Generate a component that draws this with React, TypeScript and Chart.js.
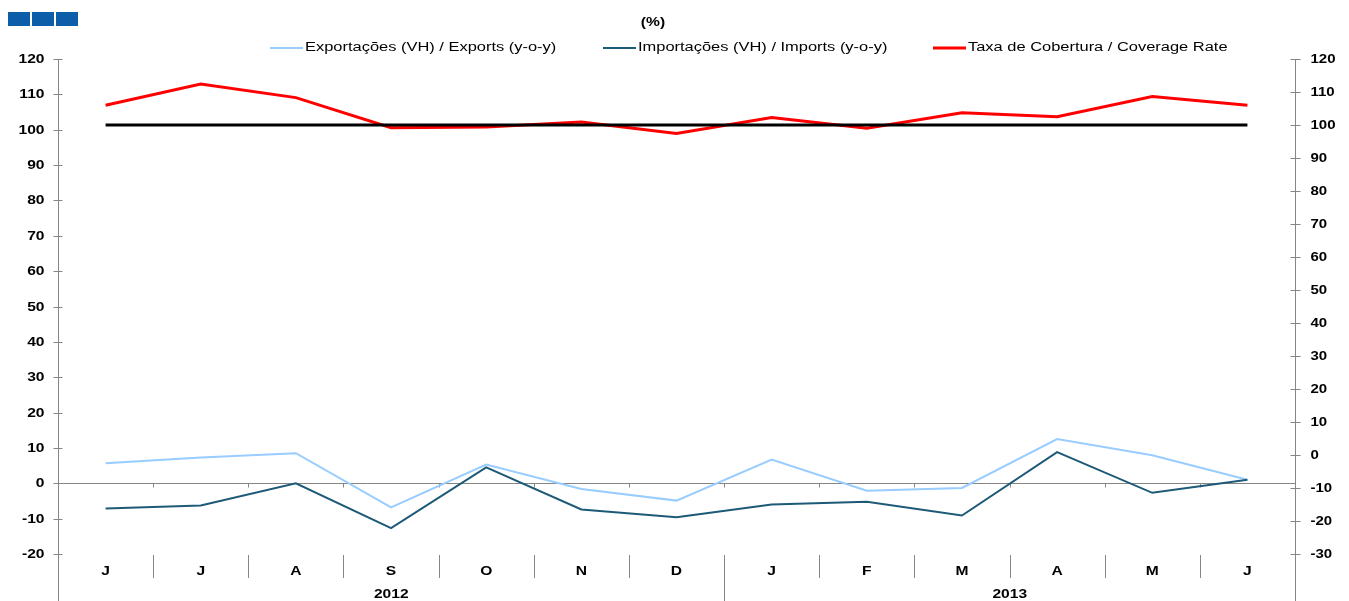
import React, { useEffect, useRef } from "react";
import { Chart, registerables } from "chart.js";

Chart.register(...registerables);

// ---- Data ----
const months = ["J", "J", "A", "S", "O", "N", "D", "J", "F", "M", "A", "M", "J"];
const years = ["2012", "2013"];
const monthsPerYear = [7, 6];
const exportsYoY = [5.7, 7.3, 8.5, -6.8, 5.3, -1.6, -4.9, 6.7, -2.1, -1.3, 12.5, 7.9, 1.0];
const importsYoY = [-7.1, -6.3, 0.0, -12.7, 4.5, -7.4, -9.6, -6.0, -5.2, -9.1, 8.8, -2.7, 1.0];
const coverageRate = [106.0, 112.4, 108.3, 99.2, 99.4, 100.9, 97.4, 102.3, 99.0, 103.7, 102.5, 108.6, 106.0];
const reference100 = [100, 100, 100, 100, 100, 100, 100, 100, 100, 100, 100, 100, 100];
const leftTicks = [-20, -10, 0, 10, 20, 30, 40, 50, 60, 70, 80, 90, 100, 110, 120];
const rightTicks = [-30, -20, -10, 0, 10, 20, 30, 40, 50, 60, 70, 80, 90, 100, 110, 120];
const seriesLabels = [
  "Exportações (VH) / Exports (y-o-y)",
  "Importações (VH) / Imports (y-o-y)",
  "Taxa de Cobertura / Coverage Rate",
];
const titleText = "(%)";

// ---- Styles ----
const FONT = "'Liberation Sans', Arial, sans-serif";
const AXIS = "#868686";
const COLORS = ["#99CCFF", "#1D5A78", "#FF0000", "#000000"];

function drawText(
  ctx: CanvasRenderingContext2D,
  text: string,
  x: number,
  y: number,
  font: string,
  align: CanvasTextAlign,
  sx: number
) {
  ctx.save();
  ctx.font = font;
  ctx.fillStyle = "#000";
  ctx.textAlign = align;
  ctx.textBaseline = "middle";
  ctx.translate(x, y);
  ctx.scale(sx, 1);
  ctx.fillText(text, 0, 0);
  ctx.restore();
}

const decorPlugin = {
  id: "decor",
  beforeDatasetsDraw(chart: any) {
    const ctx: CanvasRenderingContext2D = chart.ctx;
    const { left, right, top } = chart.chartArea;
    const yL = chart.scales.yL;
    const yR = chart.scales.yR;
    const xS = chart.scales.x;
    const H = chart.height;
    ctx.save();
    ctx.strokeStyle = AXIS;
    ctx.lineWidth = 1;
    const lx = Math.round(left) + 0.5;
    const rx = Math.round(right) + 0.5;
    // axis lines
    ctx.beginPath();
    ctx.moveTo(lx, top);
    ctx.lineTo(lx, H);
    ctx.moveTo(rx, top);
    ctx.lineTo(rx, H);
    ctx.stroke();
    // left ticks
    const tickFont = `bold 12px ${FONT}`;
    leftTicks.forEach((v) => {
      const py = Math.round(yL.getPixelForValue(v)) + 0.5;
      ctx.beginPath();
      ctx.moveTo(lx - 5, py);
      ctx.lineTo(lx + 4, py);
      ctx.stroke();
      drawText(ctx, String(v), lx - 14, py, tickFont, "right", 1.3);
    });
    rightTicks.forEach((v) => {
      const py = Math.round(yR.getPixelForValue(v)) + 0.5;
      ctx.beginPath();
      ctx.moveTo(rx - 5, py);
      ctx.lineTo(rx + 5, py);
      ctx.stroke();
      drawText(ctx, String(v), rx + 15, py, tickFont, "left", 1.25);
    });
    // zero line
    const zy = Math.round(yL.getPixelForValue(0)) + 0.5;
    ctx.beginPath();
    ctx.moveTo(lx, zy);
    ctx.lineTo(rx, zy);
    ctx.stroke();
    // boundaries
    const n = months.length;
    const bnd: number[] = [];
    for (let i = 1; i < n; i++) {
      bnd.push(Math.round((xS.getPixelForValue(i - 1) + xS.getPixelForValue(i)) / 2) + 0.5);
    }
    const yearBoundaryIdx = monthsPerYear[0] - 1;
    bnd.forEach((bx, i) => {
      ctx.beginPath();
      ctx.moveTo(bx, zy);
      ctx.lineTo(bx, zy + 4);
      ctx.moveTo(bx, 555);
      ctx.lineTo(bx, i === yearBoundaryIdx ? H : 578);
      ctx.stroke();
    });
    ctx.restore();
    // month labels
    months.forEach((m, i) => {
      drawText(ctx, m, xS.getPixelForValue(i), 572, `bold 12px ${FONT}`, "center", 1.3);
    });
    // year labels
    let start = 0;
    const edges = [left, ...bnd, right];
    years.forEach((yr, k) => {
      const end = start + monthsPerYear[k];
      const cx = (edges[start] + edges[end]) / 2;
      drawText(ctx, yr, cx, 595, `bold 12px ${FONT}`, "center", 1.3);
      start = end;
    });
  },
  afterDraw(chart: any) {
    const ctx: CanvasRenderingContext2D = chart.ctx;
    // logo squares
    ctx.save();
    ctx.fillStyle = "#0D5EA8";
    ctx.fillRect(8, 12, 22, 14);
    ctx.fillRect(32, 12, 22, 14);
    ctx.fillRect(56, 12, 22, 14);
    ctx.restore();
    // title
    drawText(ctx, titleText, 653, 23, `bold 12px ${FONT}`, "center", 1.3);
    // legend
    const legendX = [270, 603, 933];
    const widths = [2, 2, 3];
    seriesLabels.forEach((lab, i) => {
      ctx.save();
      ctx.strokeStyle = COLORS[i];
      ctx.lineWidth = widths[i];
      ctx.beginPath();
      ctx.moveTo(legendX[i], 48);
      ctx.lineTo(legendX[i] + 33, 48);
      ctx.stroke();
      ctx.restore();
      drawText(ctx, lab, legendX[i] + 35, 48, `12px ${FONT}`, "left", 1.37);
    });
  },
};

export default function App() {
  const ref = useRef<HTMLCanvasElement | null>(null);
  useEffect(() => {
    if (!ref.current) return;
    const chart = new Chart(ref.current, {
      type: "line",
      data: {
        labels: months,
        datasets: [
          {
            label: "100",
            data: reference100,
            yAxisID: "yR",
            borderColor: COLORS[3],
            borderWidth: 3,
            pointRadius: 0,
            tension: 0,
            order: 0,
          },
          {
            label: seriesLabels[2],
            data: coverageRate,
            yAxisID: "yR",
            borderColor: COLORS[2],
            borderWidth: 3,
            pointRadius: 0,
            tension: 0,
            order: 1,
          },
          {
            label: seriesLabels[1],
            data: importsYoY,
            yAxisID: "yL",
            borderColor: COLORS[1],
            borderWidth: 2,
            pointRadius: 0,
            tension: 0,
            order: 2,
          },
          {
            label: seriesLabels[0],
            data: exportsYoY,
            yAxisID: "yL",
            borderColor: COLORS[0],
            borderWidth: 2,
            pointRadius: 0,
            tension: 0,
            order: 3,
          },
        ],
      },
      options: {
        responsive: false,
        animation: false,
        devicePixelRatio: 1,
        layout: { padding: { left: 58, right: 54, top: 59, bottom: 47 } },
        plugins: { legend: { display: false }, tooltip: { enabled: false }, title: { display: false } },
        scales: {
          x: { type: "category", offset: true, display: false },
          yL: { type: "linear", position: "left", min: -20, max: 120, display: false },
          yR: { type: "linear", position: "right", min: -30, max: 120, display: false },
        },
      },
      plugins: [decorPlugin],
    });
    return () => chart.destroy();
  }, []);
  return (
    <div style={{ position: "fixed", left: 0, top: 0, width: 1349, height: 601, background: "#fff" }}>
      <canvas ref={ref} width={1349} height={601} style={{ display: "block" }} />
    </div>
  );
}
